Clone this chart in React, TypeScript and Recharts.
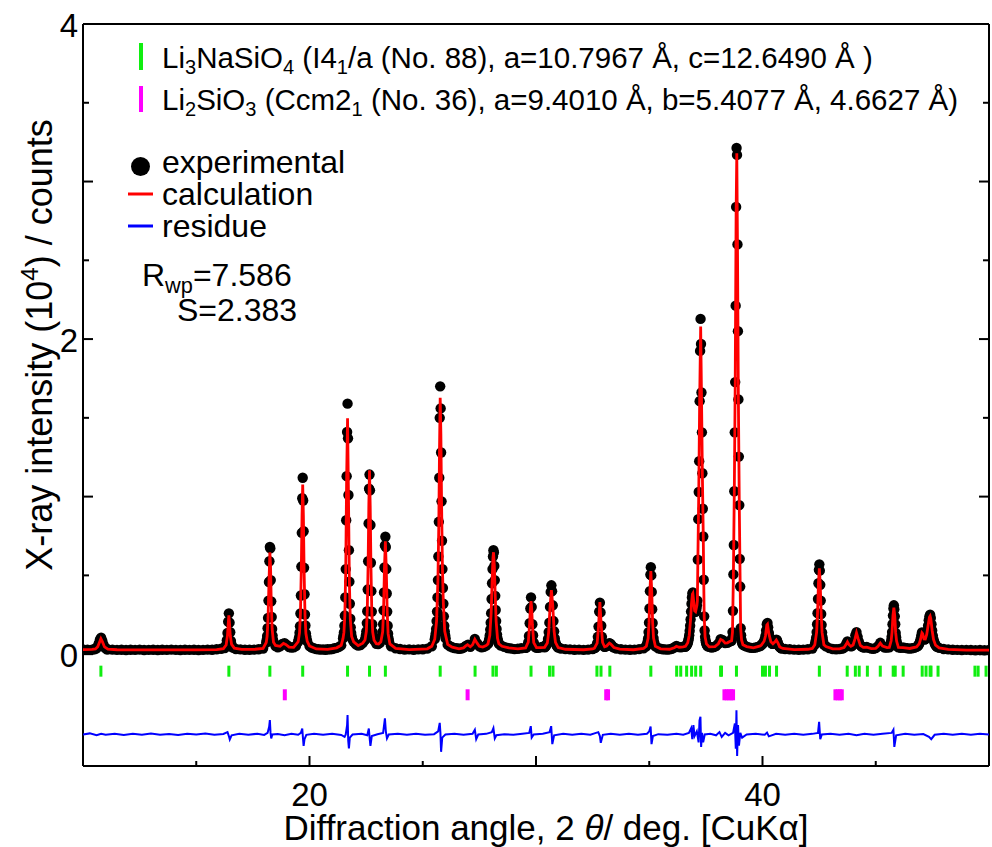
import { ComposedChart, Line, Scatter, XAxis, YAxis } from "recharts";

const FONT = '"Liberation Sans", Arial, Helvetica, sans-serif';

// observed pattern, stored as scan windows: [start 2θ, step, intensities in 10^4 counts]
const obsScans: [number, number, number[]][] = [
  [10.0, 0.2, [0.030, 0.028, 0.029]],
  [10.5, 0.05, [0.031, 0.035, 0.037, 0.05, 0.07, 0.094, 0.104, 0.086, 0.062, 0.044, 0.038, 0.031, 0.030]],
  [11.3, 0.2, [0.029, 0.027, 0.028, 0.026, 0.028, 0.027, 0.029, 0.026, 0.027, 0.028, 0.026, 0.028, 0.027,
    0.029, 0.027, 0.026, 0.028, 0.027, 0.028, 0.026, 0.027, 0.029, 0.028, 0.031, 0.034]],
  [16.26, 0.03, [0.039, 0.047, 0.058, 0.088, 0.135, 0.206, 0.259, 0.2, 0.139, 0.084, 0.06, 0.045, 0.041]],
  [16.75, 0.2, [0.033, 0.03, 0.028, 0.028, 0.029, 0.031, 0.036]],
  [18.09, 0.02, [0.074, 0.09, 0.115, 0.165, 0.23, 0.34, 0.458, 0.59, 0.68, 0.672, 0.47, 0.335, 0.236, 0.16, 0.118, 0.09, 0.076]],
  [18.5, 0.1, [0.052, 0.043, 0.05, 0.065, 0.07, 0.058, 0.045, 0.042, 0.043, 0.052]],
  [19.5, 0.02, [0.079, 0.091, 0.106, 0.136, 0.177, 0.258, 0.372, 0.556, 0.77, 0.99, 1.12, 0.975, 0.78, 0.548, 0.38,
    0.252, 0.182, 0.132, 0.11, 0.088, 0.081]],
  [20.0, 0.1, [0.052, 0.041, 0.037, 0.032, 0.031, 0.029, 0.03, 0.028, 0.031, 0.03, 0.033, 0.037, 0.04, 0.046, 0.056]],
  [21.48, 0.02, [0.10, 0.116, 0.138, 0.18, 0.245, 0.36, 0.54, 0.85, 1.13, 1.41, 1.59, 1.37, 1.01, 0.66, 0.46, 0.32,
    0.225, 0.17, 0.135, 0.112, 0.098]],
  [21.95, 0.1, [0.078, 0.062, 0.054, 0.058, 0.07]],
  [22.45, 0.02, [0.09, 0.1, 0.12, 0.145, 0.197, 0.272, 0.41, 0.59, 0.83, 1.05, 1.14, 1.04, 0.82, 0.58, 0.40, 0.27,
    0.19, 0.14, 0.116, 0.098, 0.088]],
  [22.95, 0.08, [0.066, 0.064, 0.072]],
  [23.19, 0.02, [0.092, 0.108, 0.142, 0.19, 0.278, 0.392, 0.55, 0.69, 0.745, 0.68, 0.54, 0.385, 0.27, 0.18, 0.13, 0.1, 0.082]],
  [23.6, 0.2, [0.05, 0.037, 0.033, 0.029, 0.03, 0.028, 0.03, 0.031, 0.035, 0.05]],
  [25.53, 0.02, [0.095, 0.11, 0.13, 0.16, 0.21, 0.27, 0.36, 0.47, 0.62, 0.84, 1.12, 1.50, 1.70, 1.56, 1.28, 0.97,
    0.72, 0.54, 0.42, 0.32, 0.24, 0.18, 0.145, 0.12, 0.10]],
  [26.1, 0.1, [0.06, 0.05, 0.044, 0.038, 0.037, 0.034, 0.036, 0.041, 0.052, 0.06, 0.047, 0.062, 0.096, 0.07, 0.05,
    0.044, 0.046, 0.055]],
  [27.88, 0.02, [0.065, 0.072, 0.084, 0.098, 0.12, 0.156, 0.2, 0.26, 0.35, 0.45, 0.54, 0.62, 0.66, 0.645, 0.56, 0.47,
    0.37, 0.28, 0.21, 0.16, 0.124, 0.1, 0.085, 0.074, 0.066]],
  [28.45, 0.15, [0.055, 0.046, 0.039, 0.036, 0.032, 0.034, 0.037]],
  [29.54, 0.03, [0.04, 0.041, 0.048, 0.055, 0.076, 0.115, 0.196, 0.29, 0.36, 0.30, 0.19, 0.12, 0.073, 0.057, 0.046, 0.043, 0.041]],
  [30.1, 0.1, [0.04, 0.043, 0.047]],
  [30.38, 0.03, [0.043, 0.047, 0.053, 0.061, 0.07, 0.096, 0.14, 0.2, 0.30, 0.395, 0.437, 0.40, 0.31, 0.21, 0.145, 0.1,
    0.075, 0.06, 0.052, 0.047, 0.042]],
  [31.1, 0.2, [0.036, 0.032, 0.03, 0.028, 0.029, 0.027, 0.029, 0.033]],
  [32.58, 0.03, [0.038, 0.04, 0.046, 0.052, 0.07, 0.11, 0.175, 0.27, 0.327, 0.265, 0.18, 0.11, 0.074, 0.058, 0.05, 0.047, 0.048]],
  [33.12, 0.04, [0.052, 0.058, 0.064, 0.07, 0.067, 0.06, 0.051, 0.046, 0.042]],
  [33.55, 0.2, [0.035, 0.031, 0.029, 0.028, 0.029, 0.032, 0.037]],
  [34.87, 0.02, [0.05, 0.058, 0.064, 0.08, 0.10, 0.14, 0.2, 0.29, 0.40, 0.505, 0.552, 0.50, 0.395, 0.285, 0.198, 0.14,
    0.102, 0.078, 0.066, 0.056, 0.05]],
  [35.4, 0.1, [0.037, 0.034, 0.031, 0.03, 0.029, 0.031, 0.034, 0.042, 0.052, 0.045, 0.043, 0.048]],
  [36.585, 0.02, [0.047, 0.05, 0.052, 0.056, 0.06, 0.066, 0.074, 0.085, 0.10, 0.12, 0.148, 0.18, 0.22, 0.27, 0.32, 0.36,
    0.385, 0.392, 0.37, 0.33, 0.295, 0.275, 0.268, 0.27, 0.275, 0.29, 0.31, 0.34, 0.60, 0.857, 1.029, 1.225, 1.606,
    1.925, 2.128, 1.969, 1.661, 1.408, 1.148, 0.923, 0.747, 0.472, 0.24, 0.15, 0.11, 0.088, 0.074, 0.065, 0.058,
    0.053, 0.05]],
  [37.65, 0.1, [0.046, 0.042, 0.045, 0.052, 0.066, 0.095, 0.088, 0.07, 0.072, 0.08]],
  [38.635, 0.02, [0.085, 0.10, 0.14, 0.275, 0.506, 0.693, 1.034, 1.408, 1.727, 2.212, 2.839, 3.213, 3.169, 2.601, 2.05,
    1.617, 1.254, 0.946, 0.605, 0.429, 0.165, 0.12, 0.09, 0.075, 0.066, 0.06]],
  [39.2, 0.1, [0.055, 0.048, 0.043, 0.04, 0.04, 0.042, 0.046, 0.052]],
  [39.95, 0.03, [0.058, 0.062, 0.067, 0.073, 0.082, 0.095, 0.115, 0.15, 0.19, 0.198, 0.17, 0.135, 0.11, 0.092, 0.078,
    0.07, 0.066, 0.066, 0.068, 0.072, 0.078, 0.086, 0.092, 0.088, 0.075, 0.062, 0.052, 0.046, 0.041, 0.038, 0.036]],
  [41.0, 0.2, [0.033, 0.031, 0.029, 0.028, 0.029, 0.031, 0.036]],
  [42.31, 0.02, [0.06, 0.07, 0.086, 0.105, 0.14, 0.19, 0.26, 0.35, 0.45, 0.535, 0.57, 0.53, 0.44, 0.34, 0.255, 0.186,
    0.138, 0.108, 0.087, 0.07, 0.06]],
  [42.8, 0.15, [0.05, 0.038, 0.033, 0.031, 0.033]],
  [43.5, 0.05, [0.035, 0.037, 0.042, 0.05, 0.066, 0.08, 0.068, 0.054, 0.05, 0.052, 0.06, 0.08, 0.12, 0.14, 0.11, 0.08,
    0.062, 0.052, 0.046, 0.043, 0.042]],
  [44.6, 0.1, [0.045, 0.04, 0.035, 0.034, 0.038, 0.05, 0.072, 0.052, 0.042, 0.042]],
  [45.6, 0.02, [0.043, 0.048, 0.055, 0.066, 0.085, 0.11, 0.14, 0.19, 0.245, 0.29, 0.31, 0.285, 0.24, 0.19, 0.135, 0.108,
    0.083, 0.066, 0.055, 0.048, 0.043]],
  [46.1, 0.1, [0.04, 0.042, 0.04, 0.037, 0.035, 0.037, 0.04, 0.046]],
  [46.86, 0.03, [0.052, 0.058, 0.066, 0.078, 0.095, 0.118, 0.138, 0.132, 0.112, 0.097, 0.092, 0.096, 0.108, 0.125, 0.15,
    0.18, 0.215, 0.24, 0.25, 0.23, 0.19, 0.15, 0.118, 0.094, 0.078, 0.066, 0.057, 0.051, 0.047]],
  [47.8, 0.2, [0.04, 0.033, 0.03, 0.028, 0.027, 0.026, 0.027, 0.026, 0.025, 0.026, 0.025, 0.026]],
];

// calculated profile, [2θ, intensity]
const calculated: [number, number][] = [
  [10.0, 0.029], [10.4, 0.03], [10.55, 0.033], [10.65, 0.047], [10.72, 0.072], [10.79, 0.098], [10.86, 0.078],
  [10.95, 0.046], [11.1, 0.032], [11.5, 0.028], [13.0, 0.027], [15.0, 0.027], [15.9, 0.029],
  [16.2, 0.035], [16.32, 0.058], [16.38, 0.12], [16.41, 0.19], [16.44, 0.247], [16.47, 0.19], [16.5, 0.12],
  [16.56, 0.062], [16.68, 0.038], [17.0, 0.03], [17.6, 0.031], [17.95, 0.036],
  [18.09, 0.074], [18.13, 0.115], [18.17, 0.23], [18.21, 0.45], [18.25, 0.647], [18.28, 0.56], [18.31, 0.335],
  [18.35, 0.16], [18.41, 0.076], [18.5, 0.055], [18.7, 0.05], [18.85, 0.068], [18.95, 0.062], [19.1, 0.045],
  [19.3, 0.043], [19.45, 0.07],
  [19.5, 0.079], [19.56, 0.136], [19.6, 0.258], [19.64, 0.556], [19.67, 0.88], [19.7, 1.077], [19.73, 0.88],
  [19.76, 0.548], [19.8, 0.252], [19.84, 0.132], [19.9, 0.081], [20.0, 0.052], [20.3, 0.033], [20.8, 0.03],
  [21.2, 0.04], [21.4, 0.056],
  [21.48, 0.10], [21.52, 0.138], [21.56, 0.245], [21.6, 0.54], [21.64, 1.12], [21.68, 1.497], [21.72, 1.01],
  [21.76, 0.46], [21.8, 0.225], [21.86, 0.112], [21.95, 0.078], [22.15, 0.054], [22.35, 0.07],
  [22.45, 0.09], [22.51, 0.145], [22.55, 0.272], [22.59, 0.59], [22.62, 0.95], [22.65, 1.167], [22.68, 0.94],
  [22.71, 0.58], [22.75, 0.27], [22.79, 0.14], [22.85, 0.088], [22.95, 0.066], [23.05, 0.064],
  [23.15, 0.078], [23.23, 0.142], [23.27, 0.278], [23.31, 0.55], [23.35, 0.717], [23.39, 0.54], [23.43, 0.27],
  [23.47, 0.13], [23.55, 0.065], [23.8, 0.037], [24.4, 0.029], [25.2, 0.034], [25.4, 0.05],
  [25.53, 0.095], [25.61, 0.21], [25.67, 0.47], [25.71, 0.84], [25.74, 1.3], [25.77, 1.627], [25.8, 1.4],
  [25.83, 0.97], [25.87, 0.54], [25.91, 0.32], [25.97, 0.145], [26.1, 0.062], [26.3, 0.044], [26.6, 0.034],
  [26.8, 0.04], [26.9, 0.052], [26.98, 0.06], [27.1, 0.047], [27.2, 0.06], [27.3, 0.094], [27.4, 0.07],
  [27.5, 0.05], [27.65, 0.045], [27.8, 0.055],
  [27.88, 0.065], [27.96, 0.12], [28.02, 0.26], [28.06, 0.45], [28.1, 0.61], [28.125, 0.647], [28.16, 0.56],
  [28.2, 0.37], [28.24, 0.21], [28.3, 0.1], [28.36, 0.066], [28.5, 0.05], [28.8, 0.04], [29.2, 0.034],
  [29.54, 0.04], [29.66, 0.076], [29.72, 0.196], [29.75, 0.285], [29.78, 0.337], [29.81, 0.29], [29.84, 0.19],
  [29.9, 0.073], [30.02, 0.041], [30.2, 0.042],
  [30.38, 0.043], [30.5, 0.07], [30.56, 0.14], [30.62, 0.3], [30.68, 0.407], [30.74, 0.31], [30.8, 0.145],
  [30.86, 0.075], [30.98, 0.042], [31.3, 0.031], [32.1, 0.028], [32.5, 0.033],
  [32.58, 0.038], [32.7, 0.07], [32.76, 0.175], [32.82, 0.33], [32.88, 0.18], [32.94, 0.074], [33.03, 0.047],
  [33.12, 0.052], [33.24, 0.07], [33.3, 0.064], [33.44, 0.042], [33.7, 0.032], [34.3, 0.028], [34.75, 0.037],
  [34.87, 0.05], [34.95, 0.1], [34.99, 0.2], [35.03, 0.4], [35.07, 0.527], [35.11, 0.395], [35.15, 0.198],
  [35.19, 0.102], [35.27, 0.05], [35.5, 0.034], [35.9, 0.031], [36.1, 0.04], [36.2, 0.05], [36.32, 0.044],
  [36.5, 0.046],
  [36.6, 0.05], [36.7, 0.072], [36.765, 0.12], [36.825, 0.22], [36.865, 0.32], [36.905, 0.38], [36.925, 0.385],
  [36.965, 0.33], [37.005, 0.275], [37.045, 0.27], [37.105, 0.31], [37.125, 0.34], [37.145, 0.58], [37.185, 1.02],
  [37.225, 1.6], [37.27, 2.08], [37.305, 1.66], [37.345, 1.148], [37.385, 0.747], [37.405, 0.47], [37.425, 0.24],
  [37.465, 0.11], [37.525, 0.065], [37.65, 0.046], [37.9, 0.048], [38.05, 0.066], [38.15, 0.094], [38.25, 0.086],
  [38.35, 0.07], [38.45, 0.072], [38.55, 0.08],
  [38.635, 0.085], [38.675, 0.14], [38.715, 0.5], [38.755, 1.03], [38.795, 1.72], [38.835, 2.8], [38.865, 3.18],
  [38.895, 2.6], [38.935, 1.617], [38.975, 0.946], [39.015, 0.429], [39.035, 0.165], [39.075, 0.09], [39.135, 0.06],
  [39.3, 0.048], [39.6, 0.04], [39.9, 0.052],
  [39.95, 0.058], [40.07, 0.082], [40.13, 0.115], [40.19, 0.185], [40.22, 0.19], [40.28, 0.13], [40.37, 0.078],
  [40.46, 0.066], [40.55, 0.078], [40.61, 0.09], [40.67, 0.075], [40.76, 0.046], [40.9, 0.036], [41.4, 0.029],
  [42.0, 0.031], [42.2, 0.036],
  [42.31, 0.06], [42.39, 0.14], [42.43, 0.26], [42.47, 0.45], [42.51, 0.545], [42.55, 0.44], [42.59, 0.255],
  [42.63, 0.138], [42.71, 0.06], [42.8, 0.048], [43.1, 0.034], [43.4, 0.033],
  [43.6, 0.042], [43.7, 0.064], [43.75, 0.078], [43.82, 0.06], [43.9, 0.05], [44.0, 0.058], [44.08, 0.095],
  [44.15, 0.135], [44.22, 0.1], [44.32, 0.056], [44.45, 0.043], [44.6, 0.044], [44.8, 0.035], [45.0, 0.037],
  [45.1, 0.05], [45.2, 0.07], [45.3, 0.051], [45.5, 0.042],
  [45.6, 0.043], [45.68, 0.085], [45.72, 0.14], [45.76, 0.245], [45.8, 0.295], [45.84, 0.24], [45.88, 0.135],
  [45.92, 0.083], [46.0, 0.043], [46.2, 0.041], [46.5, 0.036], [46.8, 0.046],
  [46.92, 0.066], [46.98, 0.095], [47.04, 0.135], [47.07, 0.13], [47.13, 0.097], [47.19, 0.096], [47.25, 0.125],
  [47.31, 0.18], [47.37, 0.235], [47.4, 0.242], [47.43, 0.225], [47.49, 0.15], [47.55, 0.094], [47.64, 0.057],
  [47.8, 0.04], [48.2, 0.03], [49.0, 0.026], [50.0, 0.025],
];

// difference curve (obs - calc), drawn with its offset as in the figure
const residue: [number, number][] = [
  [10.0, -0.51], [10.3, -0.503], [10.6, -0.515], [10.8, -0.505], [11.0, -0.512], [11.4, -0.506], [11.8, -0.513],
  [12.2, -0.505], [12.6, -0.511], [13.0, -0.504], [13.4, -0.512], [13.8, -0.507], [14.2, -0.513], [14.6, -0.505],
  [15.0, -0.51], [15.4, -0.504], [15.8, -0.512], [16.2, -0.507], [16.38, -0.495], [16.44, -0.52], [16.48, -0.542],
  [16.56, -0.515], [16.9, -0.506], [17.3, -0.512], [17.7, -0.505], [18.0, -0.513], [18.15, -0.5], [18.22, -0.46],
  [18.25, -0.419], [18.28, -0.5], [18.31, -0.535], [18.36, -0.51], [18.6, -0.507], [18.9, -0.515], [19.2, -0.506],
  [19.5, -0.512], [19.62, -0.5], [19.68, -0.472], [19.71, -0.53], [19.74, -0.582], [19.78, -0.54], [19.86, -0.512],
  [20.2, -0.505], [20.6, -0.512], [21.0, -0.506], [21.4, -0.513], [21.55, -0.525], [21.6, -0.51], [21.66, -0.45],
  [21.68, -0.387], [21.71, -0.55], [21.74, -0.599], [21.78, -0.53], [21.9, -0.51], [22.3, -0.505], [22.55, -0.515],
  [22.62, -0.472], [22.66, -0.54], [22.69, -0.582], [22.75, -0.52], [23.0, -0.508], [23.25, -0.5], [23.33, -0.408],
  [23.37, -0.49], [23.42, -0.535], [23.5, -0.51], [23.9, -0.506], [24.3, -0.512], [24.7, -0.505], [25.1, -0.511],
  [25.5, -0.508], [25.68, -0.49], [25.75, -0.436], [25.78, -0.5], [25.81, -0.62], [25.86, -0.53], [26.0, -0.51],
  [26.4, -0.506], [26.8, -0.512], [27.2, -0.505], [27.3, -0.48], [27.36, -0.54], [27.45, -0.51], [27.8, -0.506],
  [28.05, -0.495], [28.12, -0.47], [28.18, -0.535], [28.25, -0.515], [28.6, -0.508], [29.0, -0.512], [29.4, -0.505],
  [29.7, -0.5], [29.77, -0.457], [29.81, -0.529], [29.9, -0.51], [30.3, -0.505], [30.6, -0.495], [30.67, -0.457],
  [30.72, -0.571], [30.8, -0.515], [31.2, -0.506], [31.6, -0.512], [32.0, -0.505], [32.4, -0.511], [32.75, -0.495],
  [32.82, -0.52], [32.86, -0.563], [32.95, -0.512], [33.3, -0.505], [33.7, -0.512], [34.1, -0.506], [34.5, -0.511],
  [34.9, -0.505], [35.0, -0.49], [35.06, -0.46], [35.1, -0.571], [35.16, -0.52], [35.4, -0.508], [35.8, -0.512],
  [36.2, -0.505], [36.5, -0.512], [36.75, -0.5], [36.85, -0.47], [36.9, -0.54], [36.95, -0.45], [37.0, -0.52],
  [37.1, -0.49], [37.18, -0.56], [37.22, -0.42], [37.26, -0.398], [37.29, -0.589], [37.33, -0.5], [37.38, -0.56],
  [37.45, -0.51], [37.7, -0.505], [37.95, -0.515], [38.1, -0.495], [38.2, -0.525], [38.35, -0.5], [38.5, -0.515],
  [38.7, -0.5], [38.78, -0.44], [38.82, -0.6], [38.85, -0.356], [38.88, -0.646], [38.92, -0.45], [38.96, -0.58],
  [39.02, -0.5], [39.1, -0.53], [39.3, -0.51], [39.7, -0.505], [40.1, -0.512], [40.2, -0.498], [40.28, -0.522],
  [40.6, -0.506], [41.0, -0.512], [41.4, -0.505], [41.8, -0.511], [42.2, -0.506], [42.45, -0.5], [42.5, -0.43],
  [42.55, -0.54], [42.62, -0.51], [43.0, -0.506], [43.4, -0.512], [43.8, -0.505], [44.15, -0.515], [44.5, -0.506],
  [44.9, -0.512], [45.3, -0.505], [45.7, -0.5], [45.78, -0.48], [45.82, -0.589], [45.9, -0.515], [46.3, -0.506],
  [46.7, -0.512], [47.1, -0.507], [47.35, -0.525], [47.45, -0.54], [47.6, -0.512], [48.0, -0.506], [48.4, -0.512],
  [48.8, -0.505], [49.2, -0.511], [49.6, -0.506], [50.0, -0.51],
];

// Bragg reflection positions (2θ)
const li3nasio4Peaks = [10.79, 16.44, 18.25, 19.7, 21.68, 22.65, 23.35, 25.77, 27.31, 28.1, 28.25, 29.78, 30.6,
  30.75, 32.69, 32.87, 33.26, 35.07, 36.21, 36.39, 36.65, 36.87, 37.05, 37.27, 38.15, 38.19, 38.85, 40.0, 40.13,
  40.31, 40.62, 42.51, 43.74, 44.1, 44.27, 44.63, 45.2, 45.77, 45.86, 46.21, 47.05, 47.22, 47.4, 47.44, 47.75,
  49.38, 49.52, 49.87];
const li2sio3Peaks = [18.91, 26.98, 33.1, 33.18, 38.32, 38.42, 38.52, 38.62, 38.7, 43.22, 43.32, 43.42, 43.5];

const xTicks = [10, 15, 20, 25, 30, 35, 40, 45, 50];
const xLabels = [20, 40];
const yTicks = [0, 0.5, 1, 1.5, 2, 2.5, 3, 3.5, 4];
const yLabels = [0, 2, 4];

const observed = obsScans.flatMap(([start, step, counts]) =>
  counts.map((y, i) => ({ x: +(start + i * step).toFixed(3), y }))
);
const calcData = calculated.map(([x, y]) => ({ x, y }));
const residueData = residue.map(([x, y]) => ({ x, y }));
const phase1 = li3nasio4Peaks.map((x) => ({ x, y: -0.108 }));
const phase2 = li2sio3Peaks.map((x) => ({ x, y: -0.258 }));

const AX = { stroke: "#000", strokeWidth: 2 };

function BottomTick({ x, y, payload }: any) {
  const v = payload.value;
  const len = v % 10 === 0 ? 10 : 5;
  return (
    <g>
      <line x1={x} x2={x} y1={y} y2={y - len} stroke="#000" strokeWidth={2} />
      {xLabels.includes(v) && (
        <text x={x} y={y + 40} textAnchor="middle" fontSize={33} fontFamily={FONT} fill="#000">
          {v}
        </text>
      )}
    </g>
  );
}

function LeftTick({ x, y, payload }: any) {
  const v = payload.value;
  const len = Number.isInteger(v) ? 10 : 6;
  return (
    <g>
      <line x1={x} x2={x + len} y1={y} y2={y} stroke="#000" strokeWidth={2} />
      {yLabels.includes(v) && (
        <text x={x - 5} y={y + 13} textAnchor="end" fontSize={33} fontFamily={FONT} fill="#000">
          {v}
        </text>
      )}
    </g>
  );
}

function RightTick({ x, y, payload }: any) {
  const len = Number.isInteger(payload.value) ? 10 : 6;
  return <line x1={x} x2={x - len} y1={y} y2={y} stroke="#000" strokeWidth={2} />;
}

const ObsDot = (p: any) => <circle cx={p.cx} cy={p.cy} r={5.2} fill="#000" />;
const GreenBar = (p: any) => <rect x={p.cx - 1.5} y={p.cy - 5.5} width={3} height={11} fill="#10ee10" />;
const PinkBar = (p: any) => <rect x={p.cx - 2} y={p.cy - 5.5} width={4} height={11} fill="#ff00ff" />;

// text with sub/superscripts: [text, baseline offset]
function RichText({ x, y, size, parts }: { x: number; y: number; size: number; parts: [string, number][] }) {
  let shift = 0;
  return (
    <text x={x} y={y} fontSize={size} fontFamily={FONT} fill="#000" style={{ whiteSpace: "pre" }}>
      {parts.map(([t, off], i) => {
        const dy = off - shift;
        shift = off;
        return (
          <tspan key={i} dy={dy} fontSize={off === 0 ? size : size * 0.68}>
            {t}
          </tspan>
        );
      })}
    </text>
  );
}

export default function App() {
  return (
    <div style={{ position: "absolute", left: 0, top: 0, width: 992, height: 847, background: "#fff" }}>
      <ComposedChart width={992} height={847} margin={{ top: 23, right: 2, bottom: 41, left: 23 }}>
        <XAxis
          dataKey="x"
          type="number"
          domain={[10, 50]}
          allowDataOverflow
          ticks={xTicks}
          interval={0}
          tick={BottomTick}
          tickLine={false}
          tickSize={0}
          tickMargin={0}
          axisLine={AX}
          height={40}
        />
        <XAxis xAxisId="t" orientation="top" type="number" domain={[10, 50]} height={1} tick={false} tickLine={false} axisLine={AX} />
        <YAxis
          type="number"
          domain={[-0.71, 4]}
          allowDataOverflow
          ticks={yTicks}
          interval={0}
          tick={LeftTick}
          tickLine={false}
          tickSize={0}
          tickMargin={0}
          axisLine={AX}
          width={60}
        />
        <YAxis
          yAxisId="r"
          orientation="right"
          type="number"
          domain={[-0.71, 4]}
          allowDataOverflow
          ticks={yTicks}
          interval={0}
          tick={RightTick}
          tickLine={false}
          tickSize={0}
          tickMargin={0}
          axisLine={AX}
          width={1}
        />
        <Scatter data={observed} dataKey="y" shape={ObsDot} isAnimationActive={false} />
        <Line data={calcData} dataKey="y" stroke="#ff0000" strokeWidth={2.8} dot={false} isAnimationActive={false} zIndex={700} />
        <Line data={residueData} dataKey="y" stroke="#0000ff" strokeWidth={2} dot={false} isAnimationActive={false} zIndex={700} />
        <Scatter data={phase1} dataKey="y" shape={GreenBar} isAnimationActive={false} />
        <Scatter data={phase2} dataKey="y" shape={PinkBar} isAnimationActive={false} />
      </ComposedChart>
      <svg width={992} height={847} style={{ position: "absolute", left: 0, top: 0, pointerEvents: "none" }}>
        <rect x={139} y={43} width={4} height={27} fill="#10ee10" />
        <RichText
          x={162}
          y={68}
          size={29.5}
          parts={[["Li", 0], ["3", 6], ["NaSiO", 0], ["4", 6], [" (I4", 0], ["1", 6], ["/a (No. 88), a=10.7967 Å, c=12.6490 Å )", 0]]}
        />
        <rect x={139} y={86} width={4} height={26} fill="#ff00ff" />
        <RichText
          x={162}
          y={110}
          size={29.5}
          parts={[["Li", 0], ["2", 6], ["SiO", 0], ["3", 6], [" (Ccm2", 0], ["1", 6], [" (No. 36), a=9.4010 Å, b=5.4077 Å, 4.6627 Å)", 0]]}
        />
        <circle cx={140.5} cy={166.5} r={9.5} fill="#000" />
        <text x={162} y={173} fontSize={32} fontFamily={FONT}>experimental</text>
        <line x1={128} x2={153} y1={194} y2={194} stroke="#ff0000" strokeWidth={3} />
        <text x={162} y={205} fontSize={32} fontFamily={FONT}>calculation</text>
        <line x1={128} x2={153} y1={226} y2={226} stroke="#0000ff" strokeWidth={3} />
        <text x={162} y={237} fontSize={32} fontFamily={FONT}>residue</text>
        <RichText x={142} y={286} size={32} parts={[["R", 0], ["wp", 7], ["=7.586", 0]]} />
        <text x={177} y={321} fontSize={32} fontFamily={FONT}>S=2.383</text>
        <text x={546} y={840} textAnchor="middle" fontSize={35} fontFamily={FONT}>
          Diffraction angle, 2 <tspan fontStyle="italic">θ</tspan>/ deg. [CuKα]
        </text>
        <text transform="translate(52,345) rotate(-90)" textAnchor="middle" fontSize={36} fontFamily={FONT}>
          X-ray intensity (10<tspan dy={-14} fontSize={24}>4</tspan>
          <tspan dy={14}>) / counts</tspan>
        </text>
      </svg>
    </div>
  );
}
